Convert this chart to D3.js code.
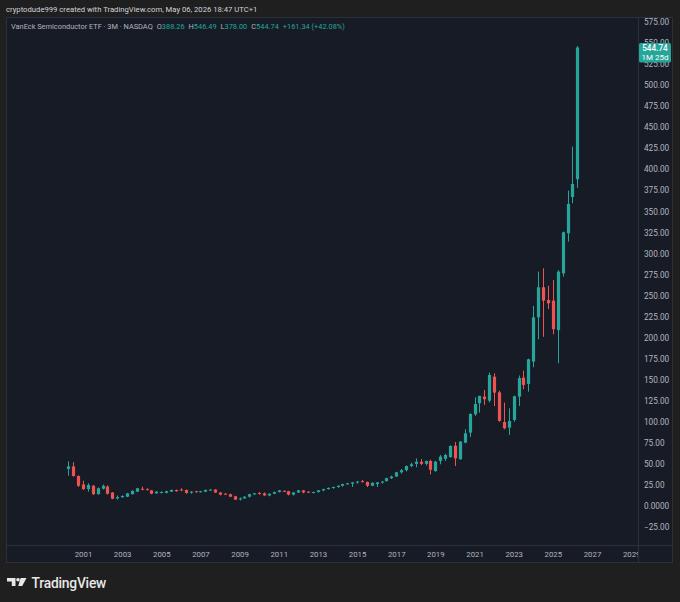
<!DOCTYPE html>
<html>
<head>
<meta charset="utf-8">
<script src="https://cdn.jsdelivr.net/npm/d3@7"></script>
<style>
  html, body { margin: 0; padding: 0; background: #1f1f1f; }
  svg { display: block; font-family: Roboto, "Noto Sans", sans-serif; }
</style>
</head>
<body>
<script>
// quarterly candles, VanEck Semiconductor ETF (SMH), split adjusted
var quarters = [
  "2000Q2","2000Q3","2000Q4",
  "2001Q1","2001Q2","2001Q3","2001Q4","2002Q1","2002Q2","2002Q3","2002Q4",
  "2003Q1","2003Q2","2003Q3","2003Q4","2004Q1","2004Q2","2004Q3","2004Q4",
  "2005Q1","2005Q2","2005Q3","2005Q4","2006Q1","2006Q2","2006Q3","2006Q4",
  "2007Q1","2007Q2","2007Q3","2007Q4","2008Q1","2008Q2","2008Q3","2008Q4",
  "2009Q1","2009Q2","2009Q3","2009Q4","2010Q1","2010Q2","2010Q3","2010Q4",
  "2011Q1","2011Q2","2011Q3","2011Q4","2012Q1","2012Q2","2012Q3","2012Q4",
  "2013Q1","2013Q2","2013Q3","2013Q4","2014Q1","2014Q2","2014Q3","2014Q4",
  "2015Q1","2015Q2","2015Q3","2015Q4","2016Q1","2016Q2","2016Q3","2016Q4",
  "2017Q1","2017Q2","2017Q3","2017Q4","2018Q1","2018Q2","2018Q3","2018Q4",
  "2019Q1","2019Q2","2019Q3","2019Q4","2020Q1","2020Q2","2020Q3","2020Q4",
  "2021Q1","2021Q2","2021Q3","2021Q4","2022Q1","2022Q2","2022Q3","2022Q4",
  "2023Q1","2023Q2","2023Q3","2023Q4","2024Q1","2024Q2","2024Q3","2024Q4",
  "2025Q1","2025Q2","2025Q3","2025Q4","2026Q1","2026Q2"
];
var openP = [
  44, 47, 35.5,
  25.5, 20, 24, 14, 20.5, 23, 16, 9,
  10.5, 11, 14, 17, 20.5, 20, 18.5, 15,
  16, 15.5, 17, 19, 19.5, 19, 16, 17.5,
  16.5, 17, 19, 19.5, 16, 14.5, 14, 11.5,
  8, 9, 11, 14, 15.5, 15, 12.5, 14.5,
  16.5, 18, 17.5, 13.5, 16, 18.5, 17, 16,
  16.5, 18.5, 20, 21.5, 22.5, 24, 26, 26.5,
  28, 29.5, 28.5, 24, 26, 28, 29.5, 33,
  35, 40, 42.5, 47.5, 50, 52.5, 50, 53.5,
  41.5, 53.5, 56, 58, 71.6, 55.5, 75.2, 87.1,
  108.9, 122, 129.9, 125.1, 153.6, 135, 99.8, 93,
  102.2, 129.9, 152.5, 145, 171.5, 224.2, 259.8, 244.7,
  244, 209, 276.4, 324, 367, 388.26
];
var highP = [
  53, 52, 36.5,
  30, 27, 25, 22, 25.5, 24.5, 16.5, 12.5,
  12.5, 15.5, 18.5, 21.5, 23, 21, 19, 17.5,
  17.5, 18, 19.5, 19.5, 21, 19.5, 17.5, 18,
  18, 19.5, 20, 20, 16.5, 15.5, 14.5, 12,
  10, 11.5, 14.5, 15.5, 16.5, 16, 15, 17,
  19, 18.5, 18, 16.5, 19, 19, 17.5, 17,
  19, 20.5, 22, 23, 24.5, 26.5, 27.5, 28.5,
  29.5, 31, 29, 28, 28.5, 29.5, 33.5, 36,
  40.5, 44, 48, 51.5, 56.5, 55.8, 54, 55,
  53.5, 60.6, 62, 72, 76, 77, 91.1, 110,
  129.1, 131, 137.8, 158.4, 157.6, 137, 122.8, 116,
  131, 155, 160.8, 175, 237.6, 278.4, 282.4, 261.7,
  268.5, 280, 326, 374.6, 427, 546.49
];
var lowP = [
  36, 35, 22.5,
  19, 17, 13, 13.5, 19.5, 13.5, 8, 7.5,
  9.5, 10.5, 13.5, 16.5, 18.5, 18.5, 14, 14.5,
  15, 15, 16.5, 17, 17.5, 14.5, 14.5, 16,
  16, 16.5, 18, 15.5, 12.5, 13.5, 10.5, 7,
  6.5, 8.5, 10, 13, 13.5, 12, 11.5, 14,
  16, 16.5, 12.5, 12.5, 15.5, 15, 15.5, 15,
  16, 17.5, 19.5, 20.5, 21.5, 23, 25, 22.5,
  26.5, 28, 22.5, 23.5, 22.5, 26.5, 29, 32,
  34.5, 38.5, 41, 46, 46, 48.5, 48, 37.5,
  40.5, 49.5, 53.5, 57.5, 47.5, 55, 74.5, 82,
  107, 110.9, 120, 123, 118.8, 100, 91, 84.4,
  100, 118.8, 138.6, 135.8, 164.8, 198, 201, 234,
  204, 169.5, 272.5, 314, 359.6, 378
];
var closeP = [
  47, 35.5, 24,
  20, 25, 14, 21, 24, 14.5, 8.5, 10.5,
  12, 15, 18, 21, 19.5, 19, 14.5, 17,
  16.5, 17.5, 19, 17.5, 18.5, 15.5, 17, 16.5,
  17.5, 19, 19.5, 16, 13.5, 14, 11, 7.5,
  9, 11, 14, 15, 14.5, 12.5, 14.5, 16.5,
  18.5, 17.5, 13.5, 16, 18.5, 16, 16, 16.5,
  18.5, 20, 21.5, 22.5, 24, 26, 27, 28,
  29, 28.5, 24, 27.5, 28, 29, 33, 35,
  40, 42.5, 47.5, 49.5, 52.5, 50, 53.5, 43,
  52.7, 58.6, 60.5, 71.3, 56.6, 76.4, 86.3, 109.3,
  121.2, 130.7, 126.8, 155.6, 134.6, 101, 92.3, 101,
  130.3, 152, 143.8, 174.3, 224.2, 259.8, 244, 240.8,
  210, 278.4, 325.2, 358.8, 382.5, 544.74
];
var yearTicks = [2001, 2003, 2005, 2007, 2009, 2011, 2013, 2015, 2017, 2019, 2021, 2023, 2025, 2027, 2029];
var priceTicks = [-25, 0, 25, 50, 75, 100, 125, 150, 175, 200, 225, 250, 275, 300, 325, 350, 375, 400, 425, 450, 475, 500, 525, 550, 575];

var width = 680, height = 602;
var upColor = "#26a69a", downColor = "#ef5350";
var textGray = "#b2b5be";

var panel = {left: 6, top: 17, right: 673, bottom: 563};
var plotRight = 638, plotBottom = 545;

var svg = d3.select("body").append("svg")
    .attr("width", width)
    .attr("height", height)

svg.append("rect")
    .attr("width", width).attr("height", height)
    .attr("fill", "#1f1f1f")

// header line
svg.append("text")
    .attr("x", 6).attr("y", 11.5)
    .attr("fill", "#d1d4dc")
    .attr("font-size", 7.7)
    .text("cryptodude999 created with TradingView.com, May 06, 2026 18:47 UTC+1")

// chart panel
svg.append("rect")
    .attr("x", panel.left + 0.5).attr("y", panel.top + 0.5)
    .attr("width", panel.right - panel.left - 1)
    .attr("height", panel.bottom - panel.top - 1)
    .attr("fill", "#171b26")
    .attr("stroke", "#2c303b")

var data = quarters.map(function (q, i) {
  var yr = +q.slice(0, 4), qn = +q.slice(5);
  return {
    date: new Date(yr, (qn - 1) * 3, 1),
    o: openP[i], h: highP[i], l: lowP[i], c: closeP[i]
  };
});

var x = d3.scaleTime()
    .domain([new Date(2001, 0, 1), new Date(2027, 0, 1)])
    .range([83, 592])

var y = d3.scaleLinear()
    .domain([-25, 575])
    .range([527, 22])

// separators
svg.append("line")
    .attr("x1", plotRight + 0.5).attr("x2", plotRight + 0.5)
    .attr("y1", panel.top).attr("y2", panel.bottom)
    .attr("stroke", "#2c303b")
svg.append("line")
    .attr("x1", panel.left).attr("x2", panel.right)
    .attr("y1", plotBottom + 0.5).attr("y2", plotBottom + 0.5)
    .attr("stroke", "#2c303b")

svg.append("clipPath").attr("id", "plotClip")
  .append("rect")
    .attr("x", panel.left + 1).attr("y", panel.top + 1)
    .attr("width", plotRight - panel.left - 1)
    .attr("height", panel.bottom - panel.top - 2)

/* candles */
var candles = svg.append("g").attr("clip-path", "url(#plotClip)")
  .selectAll("g")
  .data(data)
  .enter()
  .append("g")
    .attr("fill", function (d) { return d.c >= d.o ? upColor : downColor })
    .attr("stroke", function (d) { return d.c >= d.o ? upColor : downColor })

candles.append("line")
    .attr("x1", function (d) { return Math.round(x(d.date)) + 0.5 })
    .attr("x2", function (d) { return Math.round(x(d.date)) + 0.5 })
    .attr("y1", function (d) { return y(d.h) })
    .attr("y2", function (d) { return y(d.l) })
    .attr("stroke-width", 1)

candles.append("rect")
    .attr("x", function (d) { return Math.round(x(d.date)) + 0.5 - 1.6 })
    .attr("width", 3.2)
    .attr("y", function (d) { return y(Math.max(d.o, d.c)) })
    .attr("height", function (d) { return Math.max(1, Math.abs(y(d.o) - y(d.c))) })
    .attr("stroke", "none")

// price axis
var yAxis = d3.axisRight(y)
    .tickValues(priceTicks)
    .tickSize(0)
    .tickPadding(0)
    .tickFormat(function (v) { return v === 0 ? "0.0000" : d3.format(".2f")(v) })

var gy = svg.append("g")
    .attr("transform", "translate(644,0)")
    .call(yAxis)
gy.select(".domain").remove()
gy.selectAll("text")
    .attr("fill", textGray)
    .attr("font-size", 8.2)
    .attr("font-family", "Roboto, 'Noto Sans', sans-serif")

// time axis
svg.append("clipPath").attr("id", "timeClip")
  .append("rect")
    .attr("x", panel.left).attr("y", plotBottom)
    .attr("width", plotRight - panel.left).attr("height", panel.bottom - plotBottom)

var xAxis = d3.axisBottom(x)
    .tickValues(yearTicks.map(function (yr) { return new Date(yr, 0, 1) }))
    .tickSize(0)
    .tickPadding(0)
    .tickFormat(d3.timeFormat("%Y"))

var gx = svg.append("g")
    .attr("clip-path", "url(#timeClip)")
  .append("g")
    .attr("transform", "translate(0,551)")
    .call(xAxis)
gx.select(".domain").remove()
gx.selectAll("text")
    .attr("fill", textGray)
    .attr("font-size", 7.8)
    .attr("font-family", "Roboto, 'Noto Sans', sans-serif")

// last price label (sits over the 550 / 525 tick labels, as in TradingView)
var last = data[data.length - 1];
var ly = y(last.c);
svg.append("rect")
    .attr("x", 639).attr("y", ly - 4.5)
    .attr("width", 32).attr("height", 19.5)
    .attr("rx", 1.5)
    .attr("fill", upColor)
svg.append("text")
    .attr("x", 655).attr("y", ly + 4)
    .attr("text-anchor", "middle")
    .attr("fill", "#ffffff")
    .attr("font-size", 8.2)
    .attr("font-weight", 500)
    .text(d3.format(".2f")(last.c))
svg.append("text")
    .attr("x", 655).attr("y", ly + 12.5)
    .attr("text-anchor", "middle")
    .attr("fill", "#ffffff")
    .attr("font-size", 8)
    .text("1M 25d")

// legend line
var legend = svg.append("text")
    .attr("x", 11).attr("y", 28.5)
    .attr("font-size", 7.4)
    .attr("fill", textGray)
legend.append("tspan").text("VanEck Semiconductor ETF · 3M · NASDAQ")
var parts = [["O", last.o], ["H", last.h], ["L", last.l], ["C", last.c]];
parts.forEach(function (p) {
  legend.append("tspan").attr("dx", 4).text(p[0])
  legend.append("tspan").attr("fill", upColor).text(d3.format(".2f")(p[1]))
})
legend.append("tspan").attr("dx", 4).attr("fill", upColor).text("+161.34 (+42.08%)")

// TradingView logo
var logo = svg.append("g").attr("transform", "translate(7,578)").attr("fill", "#e8e8e8")
logo.append("path").attr("d", "M0,0 H8.5 V8 H4.8 V3.4 H0 Z")
logo.append("circle").attr("cx", 11).attr("cy", 1.8).attr("r", 1.8)
logo.append("path").attr("d", "M13.6,0 H19.5 L15.2,8 H11.2 Z")
svg.append("text")
    .attr("x", 31.5).attr("y", 587.5)
    .attr("fill", "#e8e8e8")
    .attr("font-size", 13.8)
    .attr("font-weight", 500)
    .attr("letter-spacing", -0.2)
    .text("TradingView")
</script>
</body>
</html>
